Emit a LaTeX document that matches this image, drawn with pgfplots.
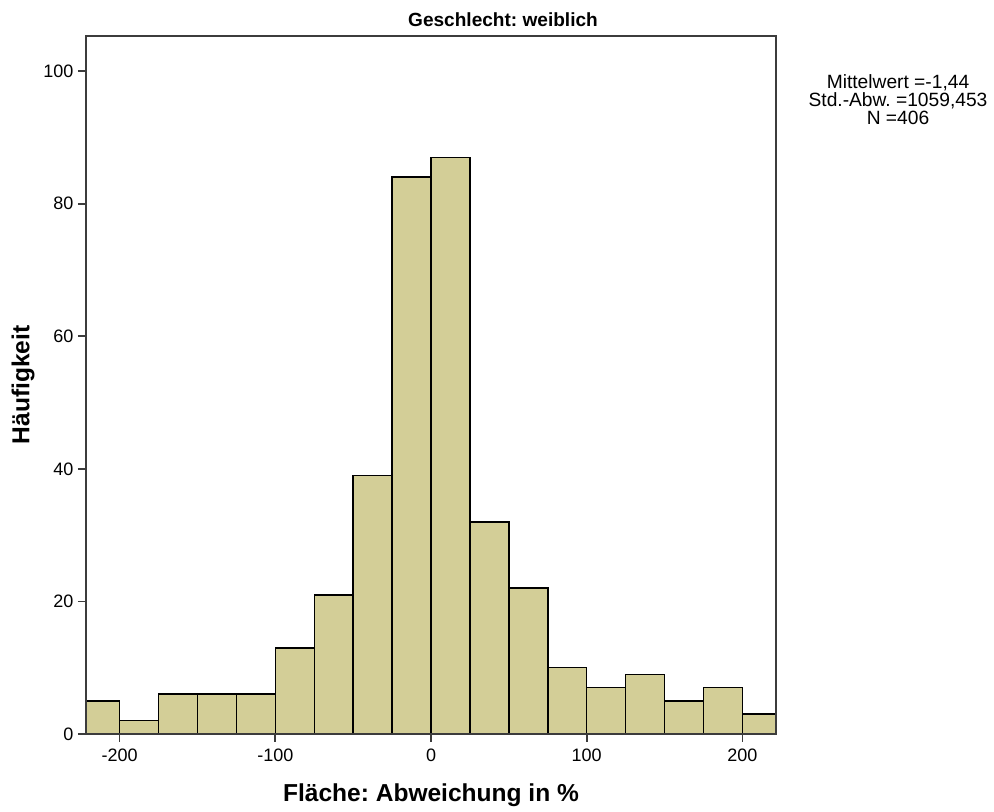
\documentclass[border=0pt]{standalone}
\usepackage{pgfplots}
\pgfplotsset{compat=1.18}
\usepackage{fontspec}
\setmainfont{Liberation Sans}
\frenchspacing
\definecolor{barfill}{RGB}{211,206,151}
\definecolor{axgray}{RGB}{60,60,60}
\begin{document}
\begin{tikzpicture}[x=0.75pt,y=0.75pt]
\path[use as bounding box] (0,0) rectangle (994,812);
\begin{axis}[
  at={(64.5pt,58.5pt)}, anchor=south west,
  scale only axis, width=517.5pt, height=523.5pt,
  xmin=-221.6, xmax=221.6, ymin=0, ymax=105.3,
  xtick={-200,-100,0,100,200},
  ytick={0,20,40,60,80,100},
  tick align=outside, tick pos=left,
  major tick length=6pt,
  axis line style={axgray, line width=1.3pt},
  every tick/.style={axgray, line width=1.3pt},
  /pgf/number format/assume math mode=true,
  ticklabel style={font=\fontsize{13.5}{16}\selectfont},
  xticklabel style={yshift=-1.5pt},
  xlabel={\textbf{Fläche: Abweichung in \%}},
  ylabel={\textbf{Häufigkeit}},
  label style={font=\fontsize{18.4}{22}\selectfont},
  xlabel style={yshift=-9.5pt},
  ylabel style={yshift=-0.3pt},
  axis on top,
]
\addplot[ybar interval, fill=barfill, draw=black, line width=1.1pt] coordinates {
(-225,5) (-200,2) (-175,6) (-150,6) (-125,6) (-100,13) (-75,21) (-50,39) (-25,84)
(0,87) (25,32) (50,22) (75,10) (100,7) (125,9) (150,5) (175,7) (200,3) (225,3)
};
\end{axis}
\node[font=\bfseries\fontsize{14.3}{17}\selectfont] at (503,792) {Geschlecht: weiblich};
\node[align=center, font=\fontsize{14.4}{13.5}\selectfont] at (898,712) {Mittelwert =-1,44\\Std.-Abw. =1059,453\\N =406};
\end{tikzpicture}
\end{document}
